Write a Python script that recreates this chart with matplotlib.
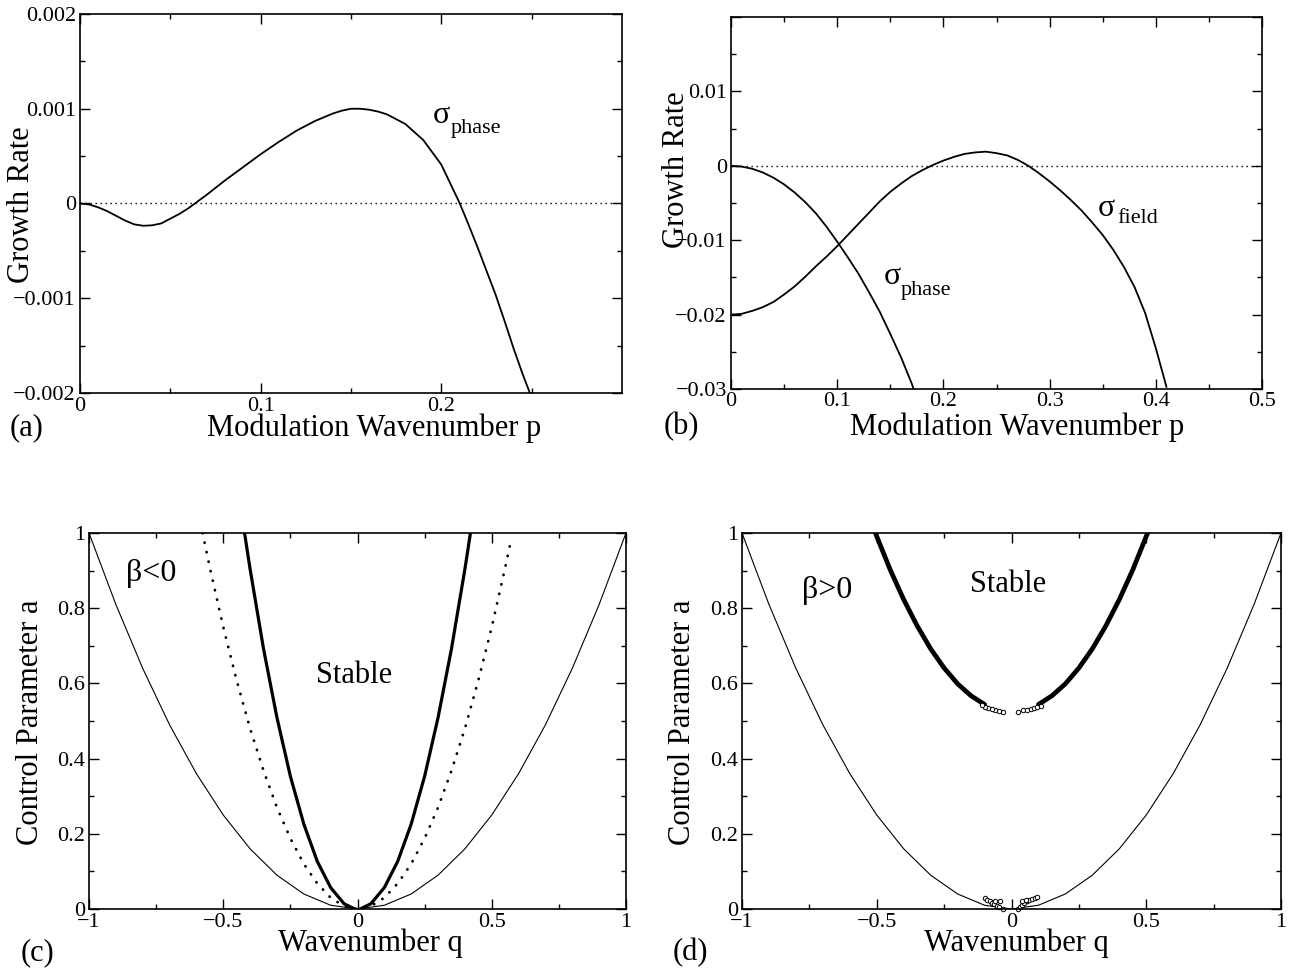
import matplotlib
matplotlib.use("Agg")
import matplotlib.pyplot as plt
import matplotlib.transforms as mtransforms
from matplotlib.ticker import FixedLocator

plt.rcParams["font.family"] = ["Liberation Serif", "DejaVu Serif"]

W, H = 1293, 971

# ---- panel (a): phase growth rate vs modulation wavenumber
p_a = [0.0, 0.005, 0.01, 0.015, 0.02, 0.025, 0.03, 0.035, 0.04, 0.045, 0.05, 0.055,
       0.06, 0.07, 0.08, 0.09, 0.10, 0.11, 0.12, 0.13, 0.14, 0.145, 0.15, 0.155,
       0.16, 0.165, 0.17, 0.18, 0.19, 0.20, 0.21, 0.215, 0.22, 0.225, 0.23, 0.235,
       0.24, 0.245, 0.249]
sigma_phase_a = [0.0, -0.00001, -0.00004, -0.00008, -0.00013, -0.00018, -0.00022,
                 -0.000235, -0.00023, -0.00021, -0.00016, -0.00011, -0.00005,
                 0.00009, 0.00024, 0.00038, 0.00052, 0.00065, 0.00077, 0.00087,
                 0.00095, 0.00098, 0.00100, 0.00100, 0.00099, 0.00097, 0.00094,
                 0.00084, 0.00067, 0.00041, 0.00001, -0.00022, -0.00046, -0.00071,
                 -0.00096, -0.00124, -0.00153, -0.00180, -0.00200]

# ---- panel (b): phase and field growth rates
p_b_phase = [0.0, 0.01, 0.02, 0.03, 0.04, 0.05, 0.06, 0.07, 0.08, 0.09, 0.10, 0.11,
             0.12, 0.13, 0.14, 0.15, 0.16, 0.17, 0.172]
sigma_phase_b = [0.0, -0.0001, -0.0004, -0.0009, -0.0016, -0.0025, -0.0036, -0.0049,
                 -0.0064, -0.0082, -0.0102, -0.0123, -0.0145, -0.0170, -0.0196,
                 -0.0226, -0.0257, -0.0292, -0.0300]
p_b_field = [0.0, 0.01, 0.02, 0.03, 0.04, 0.05, 0.06, 0.07, 0.08, 0.09, 0.10, 0.11,
             0.12, 0.13, 0.14, 0.15, 0.16, 0.17, 0.18, 0.19, 0.20, 0.21, 0.22, 0.23,
             0.24, 0.25, 0.26, 0.27, 0.28, 0.29, 0.30, 0.31, 0.32, 0.33, 0.34, 0.35,
             0.36, 0.37, 0.38, 0.39, 0.40, 0.41]
sigma_field_b = [-0.0200, -0.0199, -0.0195, -0.0190, -0.0183, -0.0173, -0.0162,
                 -0.0149, -0.0135, -0.0122, -0.0108, -0.0093, -0.0078, -0.0063,
                 -0.0048, -0.0035, -0.0024, -0.0014, -0.0006, 0.0001, 0.0007, 0.0012,
                 0.0016, 0.0018, 0.0019, 0.0017, 0.0014, 0.0008, 0.0000, -0.0010,
                 -0.0021, -0.0033, -0.0046, -0.0060, -0.0076, -0.0093, -0.0113,
                 -0.0136, -0.0163, -0.0198, -0.0245, -0.0297]

# ---- panels (c), (d): stability boundaries in (q, a)
q_neutral = [-1.0, -0.9, -0.8, -0.7, -0.6, -0.5, -0.4, -0.3, -0.2, -0.1, 0.0,
             0.1, 0.2, 0.3, 0.4, 0.5, 0.6, 0.7, 0.8, 0.9, 1.0]
a_neutral = [1.0, 0.81, 0.64, 0.49, 0.36, 0.25, 0.16, 0.09, 0.04, 0.01, 0.0,
             0.01, 0.04, 0.09, 0.16, 0.25, 0.36, 0.49, 0.64, 0.81, 1.0]

q_eck = [-0.577, -0.55, -0.5, -0.45, -0.4, -0.35, -0.3, -0.25, -0.2, -0.15, -0.1, -0.05, 0.0,
         0.05, 0.1, 0.15, 0.2, 0.25, 0.3, 0.35, 0.4, 0.45, 0.5, 0.55, 0.572]
a_eck = [1.0, 0.908, 0.75, 0.608, 0.48, 0.368, 0.27, 0.188, 0.12, 0.068, 0.03, 0.0075, 0.0,
         0.0075, 0.03, 0.068, 0.12, 0.188, 0.27, 0.368, 0.48, 0.608, 0.75, 0.908, 0.982]

q_c_left = [-0.42, -0.4, -0.35, -0.3, -0.25, -0.2, -0.15, -0.1, -0.05, -0.01]
a_c_left = [0.997, 0.904, 0.692, 0.509, 0.353, 0.226, 0.127, 0.057, 0.014, 0.0]
q_c_right = [0.01, 0.05, 0.1, 0.15, 0.2, 0.25, 0.3, 0.35, 0.4, 0.42]
a_c_right = [0.0, 0.014, 0.057, 0.127, 0.226, 0.353, 0.509, 0.692, 0.904, 0.997]

q_d_left = [-0.505, -0.45, -0.4, -0.35, -0.3, -0.25, -0.2, -0.15, -0.1]
a_d_left = [1.0, 0.902, 0.823, 0.753, 0.692, 0.641, 0.599, 0.567, 0.544]
q_d_right = [0.1, 0.15, 0.2, 0.25, 0.3, 0.35, 0.4, 0.45, 0.505]
a_d_right = [0.544, 0.567, 0.599, 0.641, 0.692, 0.753, 0.823, 0.902, 1.0]

# open circles at the ends of the upper branch
q_d_ends = [-0.030, -0.046, -0.061, -0.074, -0.086, -0.098, -0.110,
            0.025, 0.044, 0.059, 0.071, 0.084, 0.096, 0.108]
a_d_ends = [0.523, 0.527, 0.529, 0.532, 0.535, 0.538, 0.542,
            0.525, 0.528, 0.529, 0.531, 0.534, 0.536, 0.540]
# scattered circles near the origin
q_d_low = [-0.098, -0.090, -0.081, -0.072, -0.064, -0.055, -0.045, -0.033, -0.060, -0.042,
           0.025, 0.032, 0.039, 0.048, 0.056, 0.066, 0.076, 0.086, 0.095, 0.038, 0.054]
a_d_low = [0.028, 0.025, 0.021, 0.017, 0.012, 0.008, 0.004, 0.0, 0.022, 0.020,
           0.0, 0.005, 0.011, 0.016, 0.020, 0.023, 0.027, 0.029, 0.031, 0.021, 0.024]

MINUS = "\u2212"


def frac(x0, y0, x1, y1):
    return [x0 / W, 1 - y1 / H, (x1 - x0) / W, (y1 - y0) / H]


def style(ax, xlim, ylim, xmaj, xlab, ymaj, ylab, xmin, ymin):
    ax.set_xlim(*xlim)
    ax.set_ylim(*ylim)
    ax.xaxis.set_major_locator(FixedLocator(xmaj))
    ax.set_xticklabels(xlab)
    ax.yaxis.set_major_locator(FixedLocator(ymaj))
    ax.set_yticklabels(ylab)
    ax.xaxis.set_minor_locator(FixedLocator(xmin))
    ax.yaxis.set_minor_locator(FixedLocator(ymin))
    ax.tick_params(which="both", direction="in", top=True, right=True,
                   labelsize=16, width=1.0, pad=3)
    ax.tick_params(which="major", length=7)
    ax.tick_params(which="minor", length=3.5)
    for sp in ax.spines.values():
        sp.set_linewidth(1.2)


def sigma_label(ax, x, y, sub, dx=13, dy=-7):
    ax.text(x, y, "\u03c3", fontsize=23, ha="left", va="baseline")
    tr = mtransforms.offset_copy(ax.transData, fig=fig, x=dx, y=dy, units="points")
    ax.text(x, y, sub, fontsize=16, ha="left", va="baseline", transform=tr)


def ftext(x, y, s, **kw):
    fig.text(x / W, 1 - y / H, s, ha="center", va="center", **kw)


fig = plt.figure(figsize=(W / 100, H / 100), dpi=100)

# (a)
ax_a = fig.add_axes(frac(80, 14, 622, 393))
ax_a.plot(p_a, sigma_phase_a, color="black", lw=1.3)
ax_a.axhline(0, color="black", lw=1.0, ls=(0, (1, 2.6)))
style(ax_a, (0, 0.3), (-0.002, 0.002), [0, 0.1, 0.2], ["0", "0.1", "0.2"],
      [-0.002, -0.001, 0, 0.001, 0.002],
      [MINUS + "0.002", MINUS + "0.001", "0", "0.001", "0.002"],
      [0.05, 0.15, 0.25], [-0.0015, -0.0005, 0.0005, 0.0015])
sigma_label(ax_a, 0.195, 0.00085, "phase", dx=13, dy=-7.5)

# (b)
ax_b = fig.add_axes(frac(731, 17, 1262, 389))
ax_b.plot(p_b_phase, sigma_phase_b, color="black", lw=1.3)
ax_b.plot(p_b_field, sigma_field_b, color="black", lw=1.3)
ax_b.axhline(0, color="black", lw=1.0, ls=(0, (1, 2.6)))
style(ax_b, (0, 0.5), (-0.03, 0.02), [0, 0.1, 0.2, 0.3, 0.4, 0.5],
      ["0", "0.1", "0.2", "0.3", "0.4", "0.5"],
      [-0.03, -0.02, -0.01, 0, 0.01, 0.02],
      [MINUS + "0.03", MINUS + "0.02", MINUS + "0.01", "0", "0.01", ""],
      [0.05, 0.15, 0.25, 0.35, 0.45], [-0.025, -0.015, -0.005, 0.005, 0.015])
ax_b.tick_params(axis="x", which="major", pad=2)
sigma_label(ax_b, 0.144, -0.0159, "phase", dx=12, dy=-7.5)
sigma_label(ax_b, 0.3456, -0.0068, "field", dx=14, dy=-5)

# (c)
ax_c = fig.add_axes(frac(89, 533, 626, 909))
ax_c.plot(q_neutral, a_neutral, color="black", lw=0.8)
ax_c.plot(q_eck, a_eck, color="black", lw=2.0, ls=(0, (0.1, 3.4)),
          dash_capstyle="round")
ax_c.plot(q_c_left, a_c_left, color="black", lw=2.3)
ax_c.plot(q_c_right, a_c_right, color="black", lw=2.3)
qt = [-1, -0.5, 0, 0.5, 1]
qtl = [MINUS + "1", MINUS + "0.5", "0", "0.5", "1"]
at = [0, 0.2, 0.4, 0.6, 0.8, 1.0]
atl = ["0", "0.2", "0.4", "0.6", "0.8", "1"]
style(ax_c, (-1, 1), (0, 1), qt, qtl, at, atl,
      [-0.75, -0.25, 0.25, 0.75], [0.1, 0.3, 0.5, 0.7, 0.9])
ax_c.text(-0.862, 0.872, "\u03b2<0", fontsize=23, ha="left", va="baseline")
ax_c.text(-0.013, 0.601, "Stable", fontsize=22, ha="center", va="baseline")

# (d)
ax_d = fig.add_axes(frac(742, 533, 1281, 909))
ax_d.plot(q_neutral, a_neutral, color="black", lw=0.8)
ax_d.plot(q_d_left, a_d_left, color="black", lw=3.4, solid_capstyle="round")
ax_d.plot(q_d_right, a_d_right, color="black", lw=3.4, solid_capstyle="round")
ax_d.plot(q_d_ends, a_d_ends, ls="none", marker="o", ms=3.2, mfc="white",
          mec="black", mew=0.7)
ax_d.plot(q_d_low, a_d_low, ls="none", marker="o", ms=3.2, mfc="white",
          mec="black", mew=0.7, clip_on=False)
style(ax_d, (-1, 1), (0, 1), qt, qtl, at, atl,
      [-0.75, -0.25, 0.25, 0.75], [0.1, 0.3, 0.5, 0.7, 0.9])
ax_d.text(-0.777, 0.827, "\u03b2>0", fontsize=23, ha="left", va="baseline")
ax_d.text(-0.013, 0.843, "Stable", fontsize=22, ha="center", va="baseline")

# axis titles and panel tags
ftext(22, 205, "Growth Rate", fontsize=22, rotation=90)
ftext(374, 428, "Modulation Wavenumber p", fontsize=22)
ftext(27, 428, "(a)", fontsize=22)
ftext(677, 170, "Growth Rate", fontsize=22, rotation=90)
ftext(1017, 427, "Modulation Wavenumber p", fontsize=22)
ftext(681, 427, "(b)", fontsize=22)
ftext(31, 722, "Control Parameter a", fontsize=22, rotation=90)
ftext(370, 943, "Wavenumber q", fontsize=22)
ftext(37, 953, "(c)", fontsize=22)
ftext(683, 722, "Control Parameter a", fontsize=22, rotation=90)
ftext(1016, 943, "Wavenumber q", fontsize=22)
ftext(690, 953, "(d)", fontsize=22)

fig.savefig("out.png", dpi=100)
